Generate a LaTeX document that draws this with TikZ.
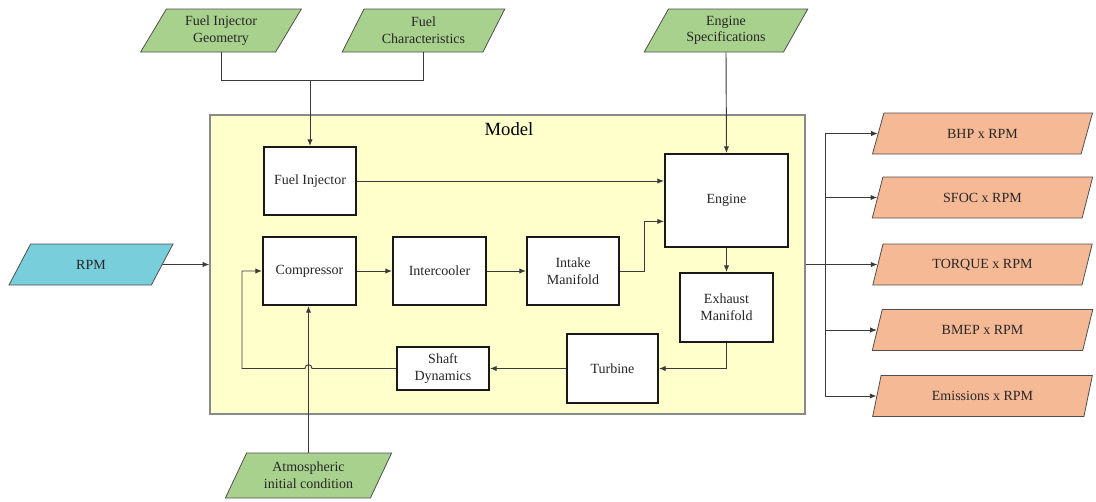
\documentclass[tikz,border=0pt]{standalone}
\usepackage{fontspec}
\setmainfont{Liberation Serif}
\usetikzlibrary{shapes.geometric,arrows.meta,calc}

\definecolor{inputgreen}{HTML}{A9D18E}
\definecolor{rpmblue}{HTML}{78CEDB}
\definecolor{outorange}{HTML}{F6B995}
\definecolor{modelyellow}{HTML}{FFFFCC}
\definecolor{wire}{HTML}{3A3A3A}
\definecolor{framegray}{HTML}{8A8A8A}
\definecolor{paraedge}{HTML}{4F4F4F}

\tikzset{
  txt/.style={font=\fontsize{10.5}{12.5}\selectfont, align=center, text=black!85},
  block/.style={txt, draw=black!90, line width=1.5pt, fill=white, inner sep=0pt},
  para/.style={txt, shape=trapezium, trapezium stretches=true,
    trapezium left angle=60, trapezium right angle=120,
    draw=paraedge, line width=0.6pt, inner sep=0pt, minimum height=31pt},
  outpara/.style={para, trapezium left angle=66, trapezium right angle=114,
    fill=outorange, minimum width=165.75pt, minimum height=30.75pt},
  wireline/.style={draw=wire, line width=0.7pt},
  flow/.style={wireline, -{Latex[length=5pt,width=4pt]}},
}

\begin{document}
\begin{tikzpicture}[x=0.75pt, y=-0.75pt]
\useasboundingbox (0,0) rectangle (1096,501);

% model frame
\node[draw=framegray, line width=1pt, fill=modelyellow, minimum width=446.25pt,
      minimum height=224.25pt, inner sep=0pt] (model) at (507.5,264.5) {};
\node[font=\fontsize{14}{16}\selectfont] (modeltitle) at (509,129) {Model};

% inputs
\node[para, fill=inputgreen, minimum width=121.5pt, minimum height=32.25pt] (geo) at (221,30.5) {Fuel Injector\\Geometry};
\node[para, fill=inputgreen, minimum width=122.25pt, minimum height=32.25pt] (char) at (423.5,30.5) {Fuel\\Characteristics};
\node[para, fill=inputgreen, minimum width=123pt, minimum height=32.25pt] (spec) at (726,30.5) {Engine\\Specifications};
\node[para, fill=inputgreen, minimum width=125.25pt, minimum height=33.75pt] (atm) at (308.5,475.5) {Atmospheric\\initial condition};
\node[para, fill=rpmblue, minimum width=123pt, minimum height=30.75pt] (rpm) at (91,264.5) {RPM};

% model blocks
\node[block, minimum width=69pt, minimum height=51pt] (fi) at (310,181) {Fuel Injector};
\node[block, minimum width=69.75pt, minimum height=51pt] (comp) at (309.5,271) {Compressor};
\node[block, minimum width=69.75pt, minimum height=51pt] (ic) at (439.5,271) {Intercooler};
\node[block, minimum width=69pt, minimum height=51pt] (intake) at (573,271) {Intake\\Manifold};
\node[block, minimum width=92.25pt, minimum height=69.75pt] (eng) at (726.5,200.5) {Engine};
\node[block, minimum width=69.75pt, minimum height=51.75pt] (exh) at (726.5,307.5) {Exhaust\\Manifold};
\node[block, minimum width=68.25pt, minimum height=51.75pt] (turb) at (612.5,368.5) {Turbine};
\node[block, minimum width=69pt, minimum height=32.25pt] (shaft) at (443,368.5) {Shaft\\Dynamics};

% outputs
\node[outpara] (bhp) at (982.5,133.5) {BHP x RPM};
\node[outpara] (sfoc) at (982.5,197.5) {SFOC x RPM};
\node[outpara] (torque) at (982.5,264.5) {TORQUE x RPM};
\node[outpara] (bmep) at (982.5,330) {BMEP x RPM};
\node[outpara] (emis) at (982.5,396) {Emissions x RPM};

% fuel inputs merge into the injector
\coordinate (fj) at (fi.north |- 0,80);
\draw[wireline] (geo.center |- geo.south) -- (geo.center |- fj) -- (char.center |- fj) -- (char.center |- char.south);
\draw[flow] (fj) -- (fi.north);

% engine specification and ambient conditions
\draw[flow] (spec.center |- spec.south) -- (eng.north);
\draw[flow] (atm.center |- atm.north) -- (atm.center |- comp.south);

% speed input
\draw[flow] (rpm.east) -- (model.west);

% air path
\draw[flow] (fi.east) -- (fi.east -| eng.west);
\draw[flow] (comp.east) -- (ic.west);
\draw[flow] (ic.east) -- (intake.west);
\coordinate (engin) at ($(eng.north west)!0.72!(eng.south west)$);
\draw[flow] (intake.east) -- ++(24,0) |- (engin);
\draw[flow] (eng.south) -- (exh.north);
\draw[flow] (exh.south) |- (turb.east);
\draw[flow] (turb.west) -- (shaft.east);

% shaft feedback to the compressor, hopping over the ambient line
\coordinate (hop) at (atm.center |- shaft.west);
\coordinate (bend) at (242,0);
\draw[flow] (shaft.west) -- ($(hop)+(3.5,0)$)
  .. controls +(0,-5) and +(0,-5) .. ($(hop)+(-3.5,0)$)
  -- (bend |- shaft.west) |- (comp.west);

% results
\coordinate (split) at (825,0);
\draw[wireline] (model.east) -- (split |- model.east);
\draw[wireline] (split |- bhp.west) -- (split |- emis.west);
\foreach \o in {bhp,sfoc,torque,bmep,emis}
  \draw[flow] (split |- \o.west) -- (\o.west);
\end{tikzpicture}
\end{document}
